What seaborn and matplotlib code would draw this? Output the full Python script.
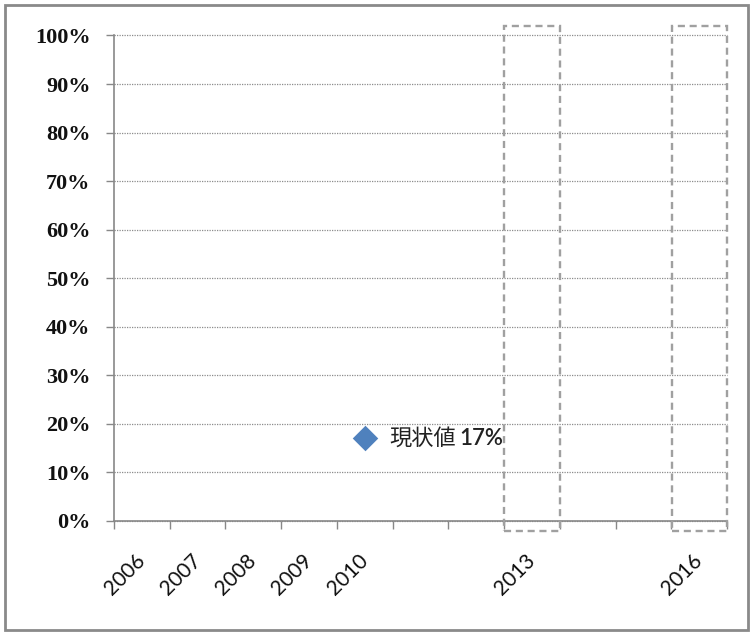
import matplotlib
matplotlib.use("Agg")
import matplotlib.pyplot as plt
from matplotlib.patches import Rectangle
import seaborn as sns
import pandas as pd

# ---- data ----
years = ["2006", "2007", "2008", "2009", "2010", "2011", "2012", "2013", "2014", "2015", "2016"]
year_labels = ["2006", "2007", "2008", "2009", "2010", "", "", "2013", "", "", "2016"]
point_years = ["2010"]
point_values = [17]
point_labels = ["現状値"]
box_years = ["2013", "2016"]
box_low = [-2, -2]
box_high = [102, 102]
y_ticks = [0, 10, 20, 30, 40, 50, 60, 70, 80, 90, 100]
y_tick_labels = [f"{v}%" for v in y_ticks]

sns.set_style("white")
plt.rcParams["font.family"] = ["Lato", "DejaVu Sans"]

fig = plt.figure(figsize=(7.51, 6.32), dpi=100)
ax = fig.add_axes([114 / 751, 1 - 521 / 632, (727 - 114) / 751, (521 - 35.5) / 632])

df = pd.DataFrame({"year": point_years, "value": point_values})
sns.stripplot(data=df, x="year", y="value", order=years, jitter=False,
              marker="D", size=13, color="#4F81BD", linewidth=0, ax=ax, zorder=5)

# dashed boxes
for yr, lo, hi in zip(box_years, box_low, box_high):
    xi = years.index(yr)
    ax.bar(xi, hi - lo, bottom=lo, width=0.99, fill=False, edgecolor="#a0a0a0",
           linestyle=(0, (3, 2)), linewidth=1.7, clip_on=False, zorder=4)

# point label
for yr, v, lab in zip(point_years, point_values, point_labels):
    t = ax.annotate(lab, (years.index(yr), v), xytext=(18, 0), textcoords="offset points",
                    ha="left", va="center", fontsize=16,
                    family=["Noto Sans CJK JP", "DejaVu Sans"], color="#222222")
    ax.annotate(f"{v}%", xy=(1, 0.5), xycoords=t, xytext=(2, 0),
                textcoords="offset points", ha="left", va="center", fontsize=16,
                fontweight="semibold", family=["Lato", "DejaVu Sans"], color="#222222")

ax.set_xlim(-0.5, len(years) - 0.5)
ax.set_ylim(0, 100)

# y axis
ax.set_yticks(y_ticks)
ax.set_yticklabels(y_tick_labels, family=["Liberation Serif"], fontweight="bold",
                   fontsize=16, color="#111111")
ax.tick_params(axis="y", which="major", direction="out", length=6, width=1,
               color="#888888", pad=11, left=True)
ax.yaxis.grid(True, linestyle=(0, (1, 1)), color="#8c8c8c", linewidth=0.9)
for gl in ax.get_ygridlines():
    gl.set_clip_on(False)
ax.xaxis.grid(False)

# x axis: ticks at category boundaries, labels at centers
ax.set_xticks([i - 0.5 for i in range(len(years) + 1)])
ax.set_xticklabels([""] * (len(years) + 1))
ax.set_xticks(range(len(years)), minor=True)
ax.set_xticklabels(year_labels, minor=True, rotation=45, ha="right", va="center",
                   rotation_mode="anchor", fontsize=15, color="#111111")
ax.tick_params(axis="x", which="major", direction="out", length=6, width=1,
               color="#888888", bottom=True)
ax.tick_params(axis="x", which="minor", length=0, pad=26, bottom=True)
ax.set_xlabel("")
ax.set_ylabel("")

for side in ["top", "right"]:
    ax.spines[side].set_visible(False)
for side in ["left", "bottom"]:
    ax.spines[side].set_color("#888888")
    ax.spines[side].set_linewidth(1.2)

# outer frame
fig.patches.append(Rectangle((5 / 751, 2 / 632), 743 / 751, 625 / 632,
                             transform=fig.transFigure, fill=False,
                             edgecolor="#8a8a8a", linewidth=2))

fig.savefig("out.png", dpi=100)
